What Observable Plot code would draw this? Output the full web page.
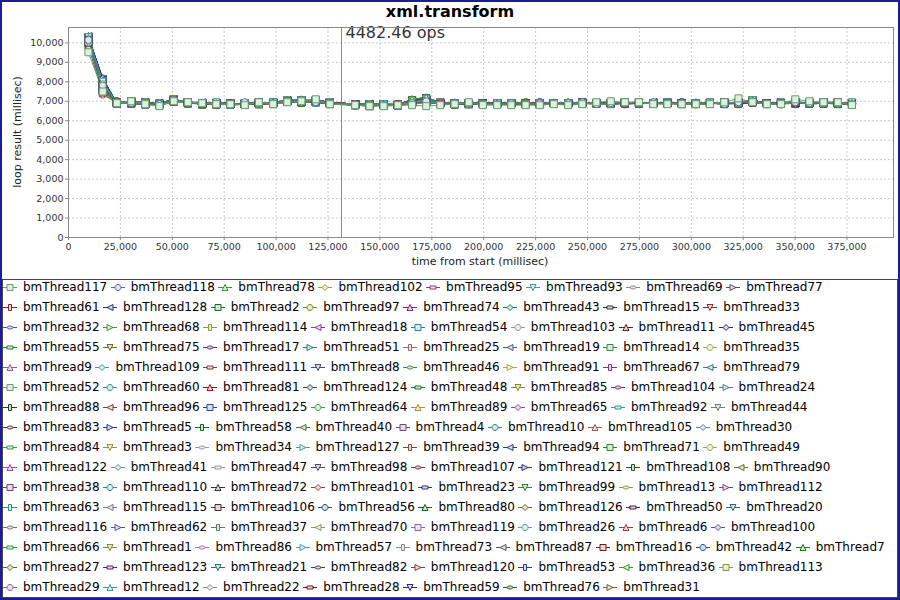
<!DOCTYPE html>
<html><head><meta charset="utf-8">
<script src="https://cdn.jsdelivr.net/npm/d3@7"></script>
<script src="https://cdn.jsdelivr.net/npm/@observablehq/plot@0.6"></script>
<style>
body{margin:0;background:#fff;}
#chart{position:relative;width:900px;height:600px;overflow:hidden;background:#fff;font-family:"DejaVu Sans",sans-serif;}
#frame{position:absolute;left:0;top:0;width:900px;height:600px;box-sizing:border-box;border:2px solid #1c1c98;pointer-events:none;z-index:5}
#title{position:absolute;top:0;left:0;width:900px;text-align:center;font:bold 16px "DejaVu Sans";line-height:24px;color:#000;z-index:3}
#plot{position:absolute;left:0;top:0;}
#ylab{position:absolute;left:18px;top:132px;transform:translate(-50%,-50%) rotate(-90deg);font:11px "DejaVu Sans";white-space:nowrap;color:#222;line-height:14px}
#xlab{position:absolute;left:480px;top:262px;transform:translate(-50%,-50%);font:11px "DejaVu Sans";white-space:nowrap;color:#222;line-height:14px}
#legendbox{position:absolute;left:2px;top:279px;width:896px;height:319px;box-sizing:border-box;border:1px solid #444;}
.row{position:absolute;left:3px;height:20px;display:flex;align-items:center;white-space:nowrap;}
.item{display:flex;align-items:center;font:12px "DejaVu Sans";line-height:20px;color:#000;margin-right:3.5px}
.item svg{margin-right:6px;display:block}
</style></head>
<body>
<div id="chart">
  <div id="plot"></div>
  <div id="title">xml.transform</div>
  <div id="ylab">loop result (millisec)</div>
  <div id="xlab">time from start (millisec)</div>
  <div id="legendbox"></div>
  <div id="frame"></div>
</div>
<script>
// ---------- data ----------
const times = [9600,16500,23300,30200,37000,43800,50700,57500,64400,71200,78000,84900,91700,98600,105400,112200,119100,125900,138100,145000,151800,158600,165500,172300,179100,186000,192800,199600,206500,213300,220200,227000,233800,240700,247500,254300,261200,268000,274800,281700,288500,295400,302200,309000,315900,322700,329500,336400,343200,350100,356900,363700,370600,377400];

const threadIds = [117,118,78,102,95,93,69,77, 61,128,2,97,74,43,15,33, 32,68,114,18,54,103,11,45, 55,75,17,51,25,19,14,35, 9,109,111,8,46,91,67,79, 52,60,81,124,48,85,104,24, 88,96,125,64,89,65,92,44, 83,5,58,40,4,10,105,30, 84,3,34,127,39,94,71,49, 122,41,47,98,107,121,108,90, 38,110,72,101,23,99,13,112, 63,115,106,56,80,126,50,20, 116,62,37,70,119,26,6,100, 66,1,86,57,73,87,16,42,7, 27,123,21,82,120,53,36,113, 29,12,22,28,59,76,31];

const legendRowSizes = [8,8,8,8,8,8,8,8,8,8,8,8,8,9,8,7];

const seriesColors = ["#5f9f6a","#4f6f9f","#3f8f3f","#9a9a3a","#8a3a8a","#3a9a9a","#8a8a8a","#505050",
"#7a2a2a","#1f2f7f","#1a6a1a","#7a8a2a","#7a2a7a","#1a7a7a","#333333","#8a2a2a",
"#4a5a9a","#3a9a3a","#8a9a3a","#8a3a9a","#2a8a8a","#999999","#6a1a1a","#2a2a6a",
"#2a7a2a","#6a6a1a","#5a2a5a","#2a7a7a","#9a6a6a","#4a5a8a","#3a8a3a","#9aaa5a",
"#8a5a9a","#3a9a9a","#8a3a3a","#3a4a8a","#3a8a4a","#aaaa3a","#7a3a7a","#2a7a7a",
"#6a9a6a","#3a8a8a","#8a1a1a","#2a3a8a","#1a7a1a","#8a8a1a","#6a2a7a","#2a8a8a",
"#1a4a1a","#8a3a2a","#2a4a9a","#3a9a4a","#9a9a2a","#8a4a9a","#2a9a9a","#777777",
"#5a2a2a","#2a3a9a","#1a6a1a","#5a6a1a","#6a4a8a","#2a8a7a","#9a5a5a","#6a7aaa",
"#3a9a3a","#8a9a3a","#aa8aba","#4a9aaa","#7a4a3a","#2a3a7a","#2a8a2a","#9aaa4a",
"#9a4a9a","#4aa0a0","#9a9a9a","#4a4a5a","#7a2a2a","#2a2a8a","#1a5a1a","#6a6a2a",
"#7a3a7a","#2a8a8a","#333333","#9a3a3a","#2a3a7a","#2a8a2a","#8a9a3a","#8a3a9a",
"#3a8a8a","#777777","#4a2a2a","#2a4a7a","#1a5a1a","#6a6a2a","#4a1a4a","#2a6a6a",
"#8a6a5a","#4a5aaa","#4a8a4a","#8a9a5a","#8a6a9a","#5aa0a0","#9a3a3a","#4a5a9a",
"#3a9a3a","#8a8a2a","#aa6aba","#4a9aaa","#888888","#555555","#6a1a1a","#2a4a9a","#1a7a1a",
"#6a6a1a","#6a1a6a","#1a7a7a","#444444","#8a3a3a","#2a3a8a","#2a9a2a","#8a9a2a",
"#8a5a9a","#3a9a9a","#8a8a8a","#6a1a1a","#2a2a7a","#1a5a1a","#6a6a1a"];

// first sample of each thread (millisec)
const startValues = [
9516,10150,10250,10050,10200,10300,9950,10100,10200,10350,10050,10150,10250,10000,10100,10300,
9900,10200,10100,10250,10050,10150,9850,10300,10100,10200,10000,10250,9950,10150,10100,10300,
10050,10200,9900,10150,10250,10100,10000,10300,10150,10050,10200,10350,9950,10100,10250,10150,
10000,10200,10100,10300,9900,10150,10050,10250,10100,10200,10000,10300,10150,9950,10100,10250,
10050,10200,10150,9900,10300,10100,10000,10250,10150,10050,10200,9950,10100,10300,10150,10000,
10250,10100,10200,9900,10150,10050,10300,10100,10200,10000,10250,10150,9950,10100,10200,10300,
10050,10150,10000,10250,10100,10200,9900,10150,10300,10050,10100,10250,10000,10200,10150,9950,
10100,10300,10200,10050,10150,10250,10000,10100,10200,9900,10150,10300,10050,10100,10250,10150];

// later samples, one character each: value = 6500 + 50 * base36(char)
const laterCodes = [
"k 8a75a98776 979ac76556 6567966666 7679a99777 779d977ca9 96",
"q 9867b88769 88ab977665 8a78877878 8897888988 8879a78988 87",
"m a978c98878 79bca86576 ce89788897 8988798888 9888b88a88 98",
"s 8976a97867 88a9b87766 9b78877887 8987899878 8889a87988 87",
"o 9a87b98877 879aa87676 8a98787888 8898878898 9879a88988 88",
"u 8987a88977 89ab986676 9c87878878 8888898887 8988b78889 79",
"i 97869a8787 97a9a87656 7987887888 9888788898 8889988978 88",
"r 8897b97887 88aab96776 ab88788878 8898888888 7898a89988 88",
"p a987a88787 78ab987667 9a87888789 8888978889 8887a87898 97",
"w 8978b99877 98bab87766 8987887888 8789888988 8888988889 88",
"n 9887a87877 89a9a76576 bd87878887 8888898888 8979a88988 78",
"t 8a96c98778 87abb87767 9a88887898 8888889888 8889b78898 88",
"j 9877a98887 88aac97677 ce98788878 9888988887 8888a89888 89",
"x 8987b88778 89ab987666 8a87788888 8987888988 9878988988 88",
"q 9897a97867 8899a86766 9a88878787 8888888898 8888a78888 87",
"s 8a87b98877 98aba87676 ab87888878 8898789888 8897988978 98",
"l 8978a88778 879aa97767 8988788888 8788898888 8888a88988 88",
"v 9987c97887 88bbb87666 9b98787888 8898888887 8889b78898 88",
"o 8886a98778 89a9a86776 8a87888798 8888978888 7888a89888 98",
"r 9a87b88877 78aba97667 9c87887888 8887888988 8898988988 87",
"p 8977a98887 89ab986766 ab88788887 8898888898 8888a88889 88",
"u 8988b97877 88a9a87676 9987878888 8888898888 8979a78988 88",
"k 9876a88777 89aab87566 8a87888878 8988888888 8889988898 89",
"y 8a97b98878 98bba87677 bd88788888 8888788988 8888b88988 87",
"n 8987a97787 88a9a96766 9a87888789 8898888887 8898a78888 88",
"t 9978c88877 79abb87676 8b98878878 8888898888 8888988989 88",
"m 8887a98878 88aaa87667 9a87888888 8788888898 8889a88888 98",
"w 9a86b97787 89ab987766 ac88787888 8898888888 7888a89988 88",
"h 8977a88877 87a9a86676 8987888888 8888898888 8898988888 87",
"q 8987b98787 98bab97767 9b88888878 8888888988 8889b88898 88",
"s 9887a97878 88a9a87666 9a87878888 8898888888 8888a88889 88",
"r 8a97c88877 89abb87677 bc98788887 8888798888 8878988988 88",
"o 8877a98878 88aaa86766 8a88888888 8988888898 8889a78888 98",
"v 9986b97877 78bab97676 9b87887878 8888888888 8988b88988 88",
"j 8987a88787 89a9a87567 8a88788888 8898888888 8888a89898 87",
"u 8a87b98877 98aba87676 ad88878887 8888898888 8898988988 88",
"p 9877a97887 88ab987766 9a87888888 8788888898 7888a88888 88",
"x 8988c88778 89bba97667 9c98788878 8888888888 8889b88989 88",
"l 8877a98877 88a9a86676 8987887888 8898888888 8888988888 87",
"t 9a97b97787 79aba87766 ab88888887 8888788988 8898a78898 88",
"n 8987a88878 88aaa97676 9a87878888 8888898888 8888988889 98",
"r 9886b98877 89ab987667 8b88888878 8898888888 8889a88888 88",
"q 8977a97887 98a9a86766 9a87788888 8888888898 8888a89988 88",
"w 8a88c88777 88bab87676 bd98888788 8788888888 8898b88988 87",
"k 9877a98878 89aaa97766 8a87888888 8898888888 8888988888 88",
"s 8987b97877 78ab986676 9b88787888 8888898888 7889a78898 88",
"o 8a87a88787 88a9a87767 9988888878 8888888888 8888a88988 98",
"u 9986b98878 89aba87676 ac87888888 8898788888 8888988888 88",
"m 8877a97877 88ab987666 8a88878888 8888888898 8889a88888 88",
"v 8a97c88887 98bba97767 9c88888887 8888898888 8898b88989 87",
"p 8987a98777 89a9a86776 9a87888888 8788888888 8888988888 88",
"t 9887b97878 88aaa87676 ab88788878 8898888888 7888a89888 88",
"i 8977a88877 79ab987666 8987888888 8888888988 8888a88888 98",
"r 8a87b98787 88bab97667 9b88888887 8888898888 8889988988 88",
"q 9886a97877 89a9a87766 9a87878888 8898888888 8888a88888 87",
"x 8987c88878 98aba86676 bd88888878 8888888898 8898b78988 88",
"n 8877a98887 88ab987767 8a87888888 8788888888 8888988889 88",
"s 9a97b97777 89aaa97676 9b88788888 8888898888 8888a88888 98",
"o 8987a88878 88a9a87666 9a87888878 8898888888 7889988988 88",
"w 8887b98787 78bab87767 ac98888888 8888888888 8888a88988 88",
"k 8a77a97877 89ab986676 8a88878888 8888898888 8888a88888 87",
"u 9887c88877 88aba97766 9c87888887 8898888888 8898b89888 88",
"m 8977a98887 98a9a87667 9a88888888 8888888898 8888988888 88",
"t 8987b97778 89aaa86676 ab87788888 8788898888 8889a78888 98",
"p 9a86a88877 88ab987766 8988888878 8888888888 8888a88988 88",
"v 8877b98787 79bba97676 9b88878888 8898888888 7888b88888 88",
"l 8988a97877 88a9a87666 9a87888888 8888898888 8888988889 87",
"r 8a97c88887 89aba87767 bc88888887 8888888888 8898a88988 88",
"o 9887a98778 88aaa96676 8a87888888 8898888898 8888a88888 88",
"x 8977b97877 98ab987766 9b88788888 8888888888 8889b88988 98",
"j 8987a88787 88a9a87666 9987888878 8888898888 8888988888 88",
"s 9a87b98878 89bab87676 ac88888888 8788888888 8898a78989 88",
"q 8886a97877 88aaa97767 9a87878888 8888888898 8888a88888 87",
"u 8987c88887 79ab986676 bd88888887 8898888888 7888b88988 88",
"n 9877a98777 88a9a87766 8a88888888 8888898888 8888988888 88",
"t 8a97b97878 89aba87667 9b87788888 8888888888 8889a89888 98",
"m 8987a88877 98aaa86676 9a88888878 8898888888 8888a88988 88",
"w 9886b98787 88bab97766 ab88878888 8888888898 8898b88888 88",
"p 8877a97877 89a9a87676 8987888888 8788888888 8888988889 87",
"r 8988c88887 88ab987767 9c88888887 8888898888 7889a88988 88",
"o 8a87a98778 78aaa97666 9a87888888 8898888888 8888a88888 88",
"v 9887b97877 89aba86776 ac88788888 8888888888 8888b88988 98",
"k 8977a88787 88a9a87667 8a88888878 8888888898 8889988888 88",
"s 8987b98878 98ab987676 9b87888888 8888898888 8898a78888 88",
"u 9a86a97877 89bab97766 9a88878888 8898888888 8888a88988 87",
"l 8877c88887 88aaa87676 bd88888887 8888888888 7888b88888 88",
"t 8988a98777 88a9a86666 8987888888 8788888888 8888988888 88",
"q 8a97b97878 79aba87767 9b88788888 8888898898 8889a88989 98",
"n 9887a88877 89ab987676 9a87888878 8898888888 8888a88888 88",
"x 8977b98787 88bba97766 ac88888888 8888888888 8898b88988 88",
"o 8987a97877 98a9a87666 8a88878888 8888888898 8888988888 87",
"s 8886c88887 88aaa86776 9c87888887 8888898888 7889a88888 88",
"m 8a87a98778 89aba87667 9a88888888 8898888888 8888a88988 88",
"v 9887b97877 88ab987676 ab88788888 8888888888 8888b88888 98",
"p 8977a88787 78a9a97766 8988888878 8888888888 8889988888 88",
"r 8987b98878 89aaa87676 9b87888888 8788898898 8898a88989 88",
"j 9a86a97877 88bab86666 9a88878888 8898888888 8888a88888 87",
"u 8877c88887 98ab987767 bd88888887 8888888888 7888b88988 88",
"o 8988a98777 89a9a87676 8a87888888 8888898888 8888988888 88",
"t 8a97b97878 88aba96766 9b88788888 8888888898 8889a88888 98",
"l 9887a88877 88aaa87676 9a88888878 8898888888 8888a88988 88",
"w 8977b98787 89ab987667 ac88888888 8888888888 8898b88888 88",
"q 8987a97877 79a9a87766 8988878888 8888898888 8888988889 87",
"n 8886c88887 88bab97676 9c87888887 8888888888 7889a88888 88",
"s 8a87a98778 98aaa87666 9a88888888 8898888898 8888a88988 88",
"m 9887b97877 89aba86776 ab88788888 8888888888 8888b88888 98",
"v 8977a88787 88ab987767 8a88888878 8888898888 8889988888 88",
"p 8987b98878 88a9a87676 9b87888888 8888888888 8898a88989 88",
"r 9a86a97877 89aaa97766 9a88878888 8798888888 8888a88888 87",
"k 8877c88887 78aba87676 bd88888887 8888888898 7888b88988 88",
"u 8988a98777 88ab987666 8987888888 8888898888 8888988888 88",
"o 8a97b97878 89bab86766 9b88788888 8898888888 8889a88888 98",
"t 9887a88877 98a9a87676 9a88888878 8888888888 8888a88988 88",
"l 8977b98787 88aaa87667 ac88888888 8888888898 8898b88888 88",
"x 8987a97877 89aba97766 8a88878888 8888898888 8888988889 87",
"q 8886c88887 88ab987676 9c87888887 8888888888 7889a88888 88",
"n 8a87a98778 79a9a87666 9a88888888 8898888888 8888a88988 88",
"s 9887b97877 88aaa86776 ab88788888 8888888888 8888b88888 98",
"m 8977a88787 89aba87767 8988888878 8888898898 8889988888 88",
"v 8987b98878 98ab987676 9b87888888 8888888888 8898a88989 88",
"p 9a86a97877 88bab97766 9a88878888 8898888888 8888a88888 87",
"r 8877c88887 89a9a87676 bd88888887 8888888888 7888b88988 88",
"j 8988a98777 88aaa87666 8a87888888 8888898888 8888988888 88",
"u 8a97b97878 78aba86766 9b88788888 8888888898 8889a88888 98",
"o 9887a88877 89ab987676 9a88888878 8898888888 8888a88988 88",
"t 8977b98787 88bba97667 ac88888888 8888888888 8898b88888 88",
"l 8987a97877 88a9a87766 8a88878888 8888898888 8888988889 87",
"w 8886c88887 98aaa87676 9c87888887 8888888888 7889a88888 88"];

const xTicks = [0,25000,50000,75000,100000,125000,150000,175000,200000,225000,250000,275000,300000,325000,350000,375000];
const yTicks = [0,1000,2000,3000,4000,5000,6000,7000,8000,9000,10000];
const markerTime = 131500;
const markerLabel = "4482.46 ops";

// ---------- shapes (JFreeChart standard series shapes) ----------
const mk = f => ({draw(c, size){ const h = Math.sqrt(size/Math.PI); f(c, h); c.closePath(); }});
const ell = (c, a, b) => { const k = 0.5523;
  c.moveTo(a,0); c.bezierCurveTo(a,b*k,a*k,b,0,b); c.bezierCurveTo(-a*k,b,-a,b*k,-a,0);
  c.bezierCurveTo(-a,-b*k,-a*k,-b,0,-b); c.bezierCurveTo(a*k,-b,a,-b*k,a,0); };
const shapes = [
  mk((c,h)=>c.rect(-h,-h,2*h,2*h)),
  mk((c,h)=>ell(c,h,h)),
  mk((c,h)=>{c.moveTo(0,-h);c.lineTo(h,h);c.lineTo(-h,h);}),
  mk((c,h)=>{c.moveTo(0,-h);c.lineTo(h,0);c.lineTo(0,h);c.lineTo(-h,0);}),
  mk((c,h)=>c.rect(-h,-h/2,2*h,h)),
  mk((c,h)=>{c.moveTo(-h,-h);c.lineTo(h,-h);c.lineTo(0,h);}),
  mk((c,h)=>ell(c,h,h/2)),
  mk((c,h)=>{c.moveTo(-h,-h);c.lineTo(h,0);c.lineTo(-h,h);}),
  mk((c,h)=>c.rect(-h/2,-h,h,2*h)),
  mk((c,h)=>{c.moveTo(-h,0);c.lineTo(h,-h);c.lineTo(h,h);})
];
const lighten = c => d3.interpolateRgb(c, "#ffffff")(0.82);

// ---------- series ----------
const series = threadIds.map((id, i) => {
  const codes = laterCodes[i].replace(/\s+/g, "");
  const pts = [{t: times[0], v: startValues[i]}];
  for (let j = 1; j < times.length && j - 1 < codes.length; j++) {
    pts.push({t: times[j], v: 6500 + 50 * parseInt(codes[j - 1], 36)});
  }
  return {name: "bmThread" + id, color: seriesColors[i], shape: shapes[i % 10], pts};
});

const order = series.slice().reverse(); // series 0 drawn last (on top)
const marks = [
  Plot.gridX(xTicks, {stroke: "#c8c8c8", strokeOpacity: 1, strokeDasharray: "2,2"}),
  Plot.gridY(yTicks, {stroke: "#c8c8c8", strokeOpacity: 1, strokeDasharray: "2,2"}),
  Plot.ruleX([markerTime], {stroke: "#8a8a8a", strokeWidth: 1}),
  Plot.text([markerLabel], {x: () => markerTime, frameAnchor: "top", lineAnchor: "top", textAnchor: "start", dx: 4, dy: -1, fontSize: 16, fill: "#333", fontFamily: "DejaVu Sans"}),
  ...order.map(s => Plot.line(s.pts, {x: "t", y: "v", stroke: s.color, strokeWidth: 1})),
  ...order.map(s => Plot.dot(s.pts, {x: "t", y: "v", r: 3.5, symbol: s.shape, fill: lighten(s.color), stroke: s.color, strokeWidth: 1})),
  Plot.frame({stroke: "#888"}),
  Plot.axisX(xTicks, {tickFormat: d3.format(","), tickSize: 3, tickPadding: 3, stroke: "#888", fill: "#333", label: null}),
  Plot.axisY(yTicks, {tickFormat: d3.format(","), tickSize: 3, tickPadding: 2, stroke: "#888", fill: "#333", label: null})
];

const chart = Plot.plot({
  width: 900, height: 278,
  marginLeft: 68, marginRight: 7, marginTop: 27, marginBottom: 41,
  x: {domain: [0, 397400]},
  y: {domain: [0, 10790]},
  style: {fontFamily: "DejaVu Sans", fontSize: "9.5px", background: "transparent", overflow: "visible"},
  marks
});
document.getElementById("plot").appendChild(chart);

// ---------- legend ----------
const host = document.getElementById("chart");
let k = 0;
legendRowSizes.forEach((n, r) => {
  const row = document.createElement("div");
  row.className = "row";
  row.style.top = (277 + 20 * r) + "px";
  for (let j = 0; j < n && k < series.length; j++, k++) {
    const s = series[k];
    const p = d3.path(); s.shape.draw(p, Math.PI * 9);
    const item = document.createElement("div");
    item.className = "item";
    item.innerHTML = `<svg width="14" height="11" viewBox="-7 -5.5 14 11"><line x1="-7" x2="7" y1="0" y2="0" stroke="${s.color}"/><path d="${p}" fill="${lighten(s.color)}" stroke="${s.color}"/></svg><span>${s.name}</span>`;
    row.appendChild(item);
  }
  host.appendChild(row);
});
</script>
</body></html>
